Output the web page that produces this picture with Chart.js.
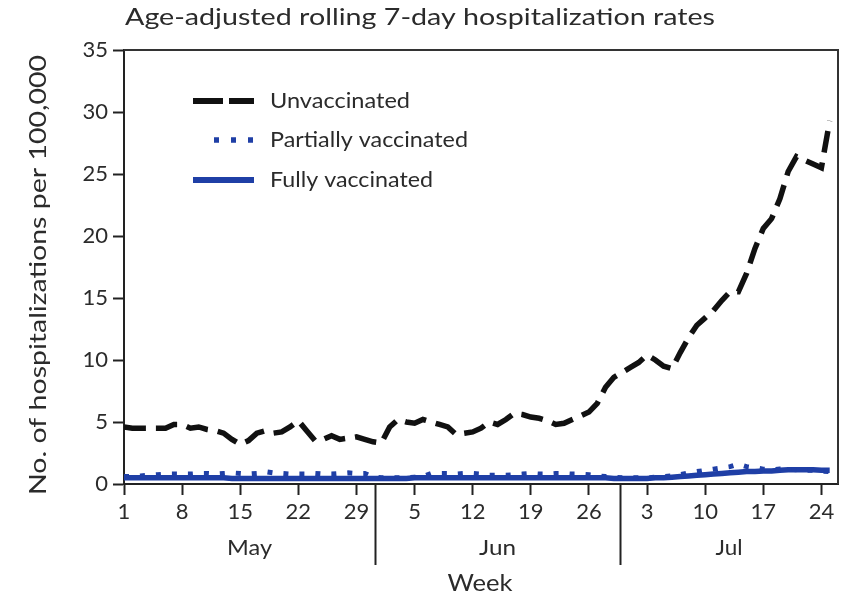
<!DOCTYPE html>
<html>
<head>
<meta charset="utf-8">
<script src="https://cdn.jsdelivr.net/npm/chart.js@4.4.1/dist/chart.umd.min.js"></script>
<style>
  body { margin: 0; background: #fff; }
  canvas { display: block; }
</style>
</head>
<body>
<canvas id="hospChart" width="845" height="600"></canvas>
<script>
// Days since May 1 (index = day), weekly ticks
const tickDays = [0, 7, 14, 21, 28, 35, 42, 49, 56, 63, 70, 77, 84];
const tickLabels = ['1', '8', '15', '22', '29', '5', '12', '19', '26', '3', '10', '17', '24'];
const months = ['May', 'Jun', 'Jul'];
const monthBreaks = [30.25, 59.75];

const unvaccinated = [
    4.6, 4.5, 4.5, 4.5, 4.5, 4.5, 4.8, 4.8, 4.5, 4.6,
    4.4, 4.3, 4.1, 3.6, 3.2, 3.5, 4.1, 4.3, 4.1, 4.2,
    4.6, 5.1, 4.3, 3.5, 3.6, 3.9, 3.6, 3.7, 3.8, 3.6,
    3.4, 3.3, 4.6, 5.2, 5.0, 4.9, 5.2, 5.0, 4.8, 4.6,
    4.0, 4.1, 4.2, 4.5, 5.0, 4.8, 5.2, 5.7, 5.6, 5.4,
    5.3, 5.1, 4.8, 4.9, 5.2, 5.5, 5.8, 6.5, 7.8, 8.6,
    9.0, 9.4, 9.8, 10.4, 10.0, 9.5, 9.3, 10.6, 11.8, 12.8,
    13.4, 14.0, 14.8, 15.5, 15.5, 17.0, 19.0, 20.6, 21.4, 23.0,
    25.2, 26.4, 26.1, 25.8, 25.5, 29.3
];
const partiallyVaccinated = [
    0.6, 0.6, 0.65, 0.7, 0.75, 0.8, 0.8, 0.8, 0.8, 0.85,
    0.85, 0.8, 0.85, 0.9, 0.85, 0.8, 0.85, 1.0, 0.9, 0.85,
    0.8, 0.8, 0.8, 0.85, 0.8, 0.8, 0.85, 0.9, 0.85, 0.85,
    0.55, 0.5, 0.5, 0.5, 0.5, 0.55, 0.6, 0.85, 0.85, 0.85,
    0.8, 0.85, 0.85, 0.8, 0.7, 0.7, 0.7, 0.75, 0.8, 0.85,
    0.8, 0.8, 0.85, 0.85, 0.8, 0.8, 0.75, 0.65, 0.6, 0.55,
    0.5, 0.5, 0.5, 0.5, 0.55, 0.6, 0.65, 0.75, 0.9, 1.0,
    1.1, 1.2, 1.3, 1.4, 1.6, 1.4, 1.3, 1.2, 1.15, 1.2,
    1.2, 1.15, 1.1, 1.1, 1.05, 1.0
];
const fullyVaccinated = [
    0.5, 0.5, 0.5, 0.5, 0.5, 0.5, 0.5, 0.5, 0.5, 0.5,
    0.5, 0.5, 0.5, 0.45, 0.45, 0.45, 0.45, 0.45, 0.45, 0.45,
    0.45, 0.45, 0.45, 0.45, 0.45, 0.45, 0.45, 0.45, 0.45, 0.45,
    0.45, 0.45, 0.45, 0.45, 0.45, 0.5, 0.5, 0.5, 0.5, 0.5,
    0.5, 0.5, 0.5, 0.5, 0.5, 0.5, 0.5, 0.5, 0.5, 0.5,
    0.5, 0.5, 0.5, 0.5, 0.5, 0.5, 0.5, 0.5, 0.5, 0.45,
    0.45, 0.45, 0.45, 0.45, 0.5, 0.5, 0.55, 0.6, 0.65, 0.7,
    0.75, 0.8, 0.85, 0.9, 0.95, 1.0, 1.0, 1.05, 1.05, 1.1,
    1.15, 1.15, 1.15, 1.15, 1.1, 1.1
];

const FONT = 'Lato, "Open Sans", sans-serif';
const INK = '#2b2b2b';
const BLUE = '#1f3fa6';

const toPoints = arr => arr.map((v, i) => ({ x: i, y: v }));

// draw text stretched horizontally to a target width (left- or centre-anchored)
function fitText(ctx, text, x, y, width, align) {
    const w = ctx.measureText(text).width;
    const sx = width / w;
    ctx.save();
    ctx.translate(x, y);
    ctx.scale(sx, 1);
    ctx.textAlign = align;
    ctx.fillText(text, 0, 0);
    ctx.restore();
}

// Title, axis titles, month row, frame and legend
const decorations = {
    id: 'decorations',
    afterDraw(chart) {
        const { ctx, chartArea: area, scales } = chart;
        ctx.save();

        // top + right frame
        ctx.strokeStyle = '#333';
        ctx.lineWidth = 2;
        ctx.beginPath();
        ctx.moveTo(area.left, area.top);
        ctx.lineTo(area.right, area.top);
        ctx.lineTo(area.right, area.bottom);
        ctx.stroke();

        ctx.fillStyle = INK;
        ctx.textBaseline = 'middle';
        ctx.font = '23px ' + FONT;
        fitText(ctx, 'Age-adjusted rolling 7-day hospitalization rates', 125, 18, 590, 'left');

        // y title
        ctx.save();
        ctx.translate(38, 275);
        ctx.rotate(-Math.PI / 2);
        ctx.font = '24px ' + FONT;
        fitText(ctx, 'No. of hospitalizations per 100,000', 0, 0, 440, 'center');
        ctx.restore();

        // month separators and labels
        const x = scales.x;
        const edges = [area.left, ...monthBreaks.map(d => x.getPixelForValue(d)), area.right];
        ctx.strokeStyle = '#222';
        ctx.lineWidth = 2;
        monthBreaks.forEach(d => {
            const px = Math.round(x.getPixelForValue(d)) + 0.5;
            ctx.beginPath();
            ctx.moveTo(px, area.bottom);
            ctx.lineTo(px, 565);
            ctx.stroke();
        });
        ctx.font = '22px ' + FONT;
        const monthWidths = [45, 37, 27];
        months.forEach((m, i) => {
            fitText(ctx, m, (edges[i] + edges[i + 1]) / 2, 548, monthWidths[i], 'center');
        });
        ctx.font = '23px ' + FONT;
        fitText(ctx, 'Week', 480, 584, 65, 'center');

        // legend
        const rows = [101, 140, 180];
        const labelWidths = [140, 198, 163];
        chart.data.datasets.forEach((ds, i) => {
            const y = rows[i];
            ctx.strokeStyle = ds.borderColor;
            ctx.lineWidth = ds.borderWidth + 0.5;
            ctx.lineCap = 'butt';
            if (i === 0) ctx.setLineDash([30, 6]);
            else if (i === 1) ctx.setLineDash([5, 12]);
            else ctx.setLineDash([]);
            ctx.beginPath();
            ctx.moveTo(i === 1 ? 214 : 193, y);
            ctx.lineTo(254, y);
            ctx.stroke();
            ctx.setLineDash([]);
            ctx.fillStyle = INK;
            ctx.font = '21px ' + FONT;
            fitText(ctx, ds.label, 270, y, labelWidths[i], 'left');
        });
        ctx.restore();
    }
};

new Chart(document.getElementById('hospChart'), {
    type: 'line',
    data: {
        datasets: [
            {
                label: 'Unvaccinated',
                data: toPoints(unvaccinated),
                borderColor: '#111',
                borderWidth: 5.5,
                borderDash: [22, 10],
                pointRadius: 0,
                tension: 0
            },
            {
                label: 'Partially vaccinated',
                data: toPoints(partiallyVaccinated),
                borderColor: BLUE,
                borderWidth: 5,
                borderDash: [5, 11],
                pointRadius: 0,
                tension: 0
            },
            {
                label: 'Fully vaccinated',
                data: toPoints(fullyVaccinated),
                borderColor: BLUE,
                borderWidth: 5.5,
                pointRadius: 0,
                tension: 0
            }
        ]
    },
    options: {
        responsive: false,
        animation: false,
        layout: { padding: { top: 50, right: 7, left: 0, bottom: 0 } },
        plugins: { legend: { display: false }, tooltip: { enabled: false } },
        scales: {
            x: {
                type: 'linear',
                min: 0,
                max: 86,
                afterBuildTicks: s => { s.ticks = tickDays.map(v => ({ value: v })); },
                afterFit: s => { s.height = 116; },
                ticks: {
                    callback: v => tickLabels[tickDays.indexOf(v)],
                    color: INK,
                    font: { family: FONT, size: 22 },
                    padding: 4,
                    maxRotation: 0,
                    autoSkip: false
                },
                grid: { drawOnChartArea: false, tickLength: 11, tickColor: '#222', tickWidth: 2 },
                border: { color: '#222', width: 2 }
            },
            y: {
                min: 0,
                max: 35,
                afterFit: s => { s.width = 124; },
                ticks: {
                    stepSize: 5,
                    color: INK,
                    font: { family: FONT, size: 22 },
                    padding: 5
                },
                grid: { drawOnChartArea: false, tickLength: 11, tickColor: '#222', tickWidth: 2 },
                border: { color: '#222', width: 2 }
            }
        }
    },
    plugins: [decorations]
});
</script>
</body>
</html>
